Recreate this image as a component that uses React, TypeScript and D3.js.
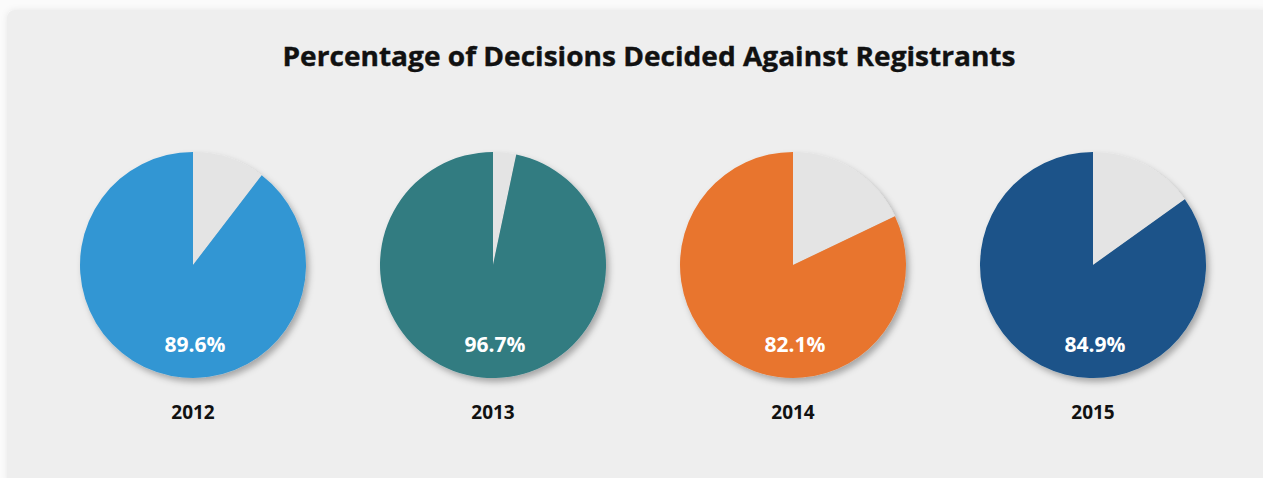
import React from "react";
import * as d3 from "d3";

const title = "Percentage of Decisions Decided Against Registrants";
const years = ["2012", "2013", "2014", "2015"];
const values = [89.6, 96.7, 82.1, 84.9];
const colors = ["#3396d3", "#317b81", "#e8752e", "#1a5389"];
const restColor = "#e4e4e4";

const W = 1263;
const H = 478;

export default function App() {
  const x = d3.scalePoint<string>().domain(years).range([193, 1093]);
  const r = 113;
  const cy = 265;
  const arc = d3.arc<d3.PieArcDatum<number>>().innerRadius(0).outerRadius(r);
  const pie = d3.pie<number>().sort(null).value((d) => d);

  return (
    <svg
      width={W}
      height={H}
      style={{ position: "absolute", left: 0, top: 0, display: "block" }}
    >
      <defs>
        <filter id="sh" x="-20%" y="-20%" width="140%" height="140%">
          <feDropShadow dx="3" dy="4" stdDeviation="3" floodColor="#000" floodOpacity="0.3" />
        </filter>
        <filter id="panelsh" x="-5%" y="-5%" width="110%" height="110%">
          <feDropShadow dx="0" dy="0" stdDeviation="3" floodColor="#000" floodOpacity="0.08" />
        </filter>
      </defs>
      <rect x={0} y={0} width={W} height={H} fill="#fbfbfb" />
      <rect x={7} y={10} width={W} height={H} rx={8} fill="#eeeeee" filter="url(#panelsh)" />
      <text
        x={649}
        y={66}
        textAnchor="middle"
        fontFamily="'Open Sans', sans-serif"
        fontWeight="bold"
        fontSize={27}
        fill="#111"
        stroke="#111"
        strokeWidth={0.4}
        textLength={733}
        lengthAdjust="spacingAndGlyphs"
      >
        {title}
      </text>
      {years.map((yr, i) => {
        const v = values[i];
        const arcs = pie([100 - v, v]);
        const cx = x(yr)!;
        return (
          <g key={yr}>
            <g transform={`translate(${cx},${cy})`} filter="url(#sh)">
              {arcs.map((a, j) => (
                <path key={j} d={arc(a)!} fill={j === 0 ? restColor : colors[i]} />
              ))}
            </g>
            <text
              x={cx + 2}
              y={352}
              textAnchor="middle"
              fontFamily="'Open Sans', sans-serif"
              fontWeight="bold"
              fontSize={21}
              fill="#fff"
            >
              {v.toFixed(1) + "%"}
            </text>
            <text
              x={cx}
              y={419}
              textAnchor="middle"
              fontFamily="'Open Sans', sans-serif"
              fontWeight="bold"
              fontSize={19}
              fill="#111"
            >
              {yr}
            </text>
          </g>
        );
      })}
    </svg>
  );
}
